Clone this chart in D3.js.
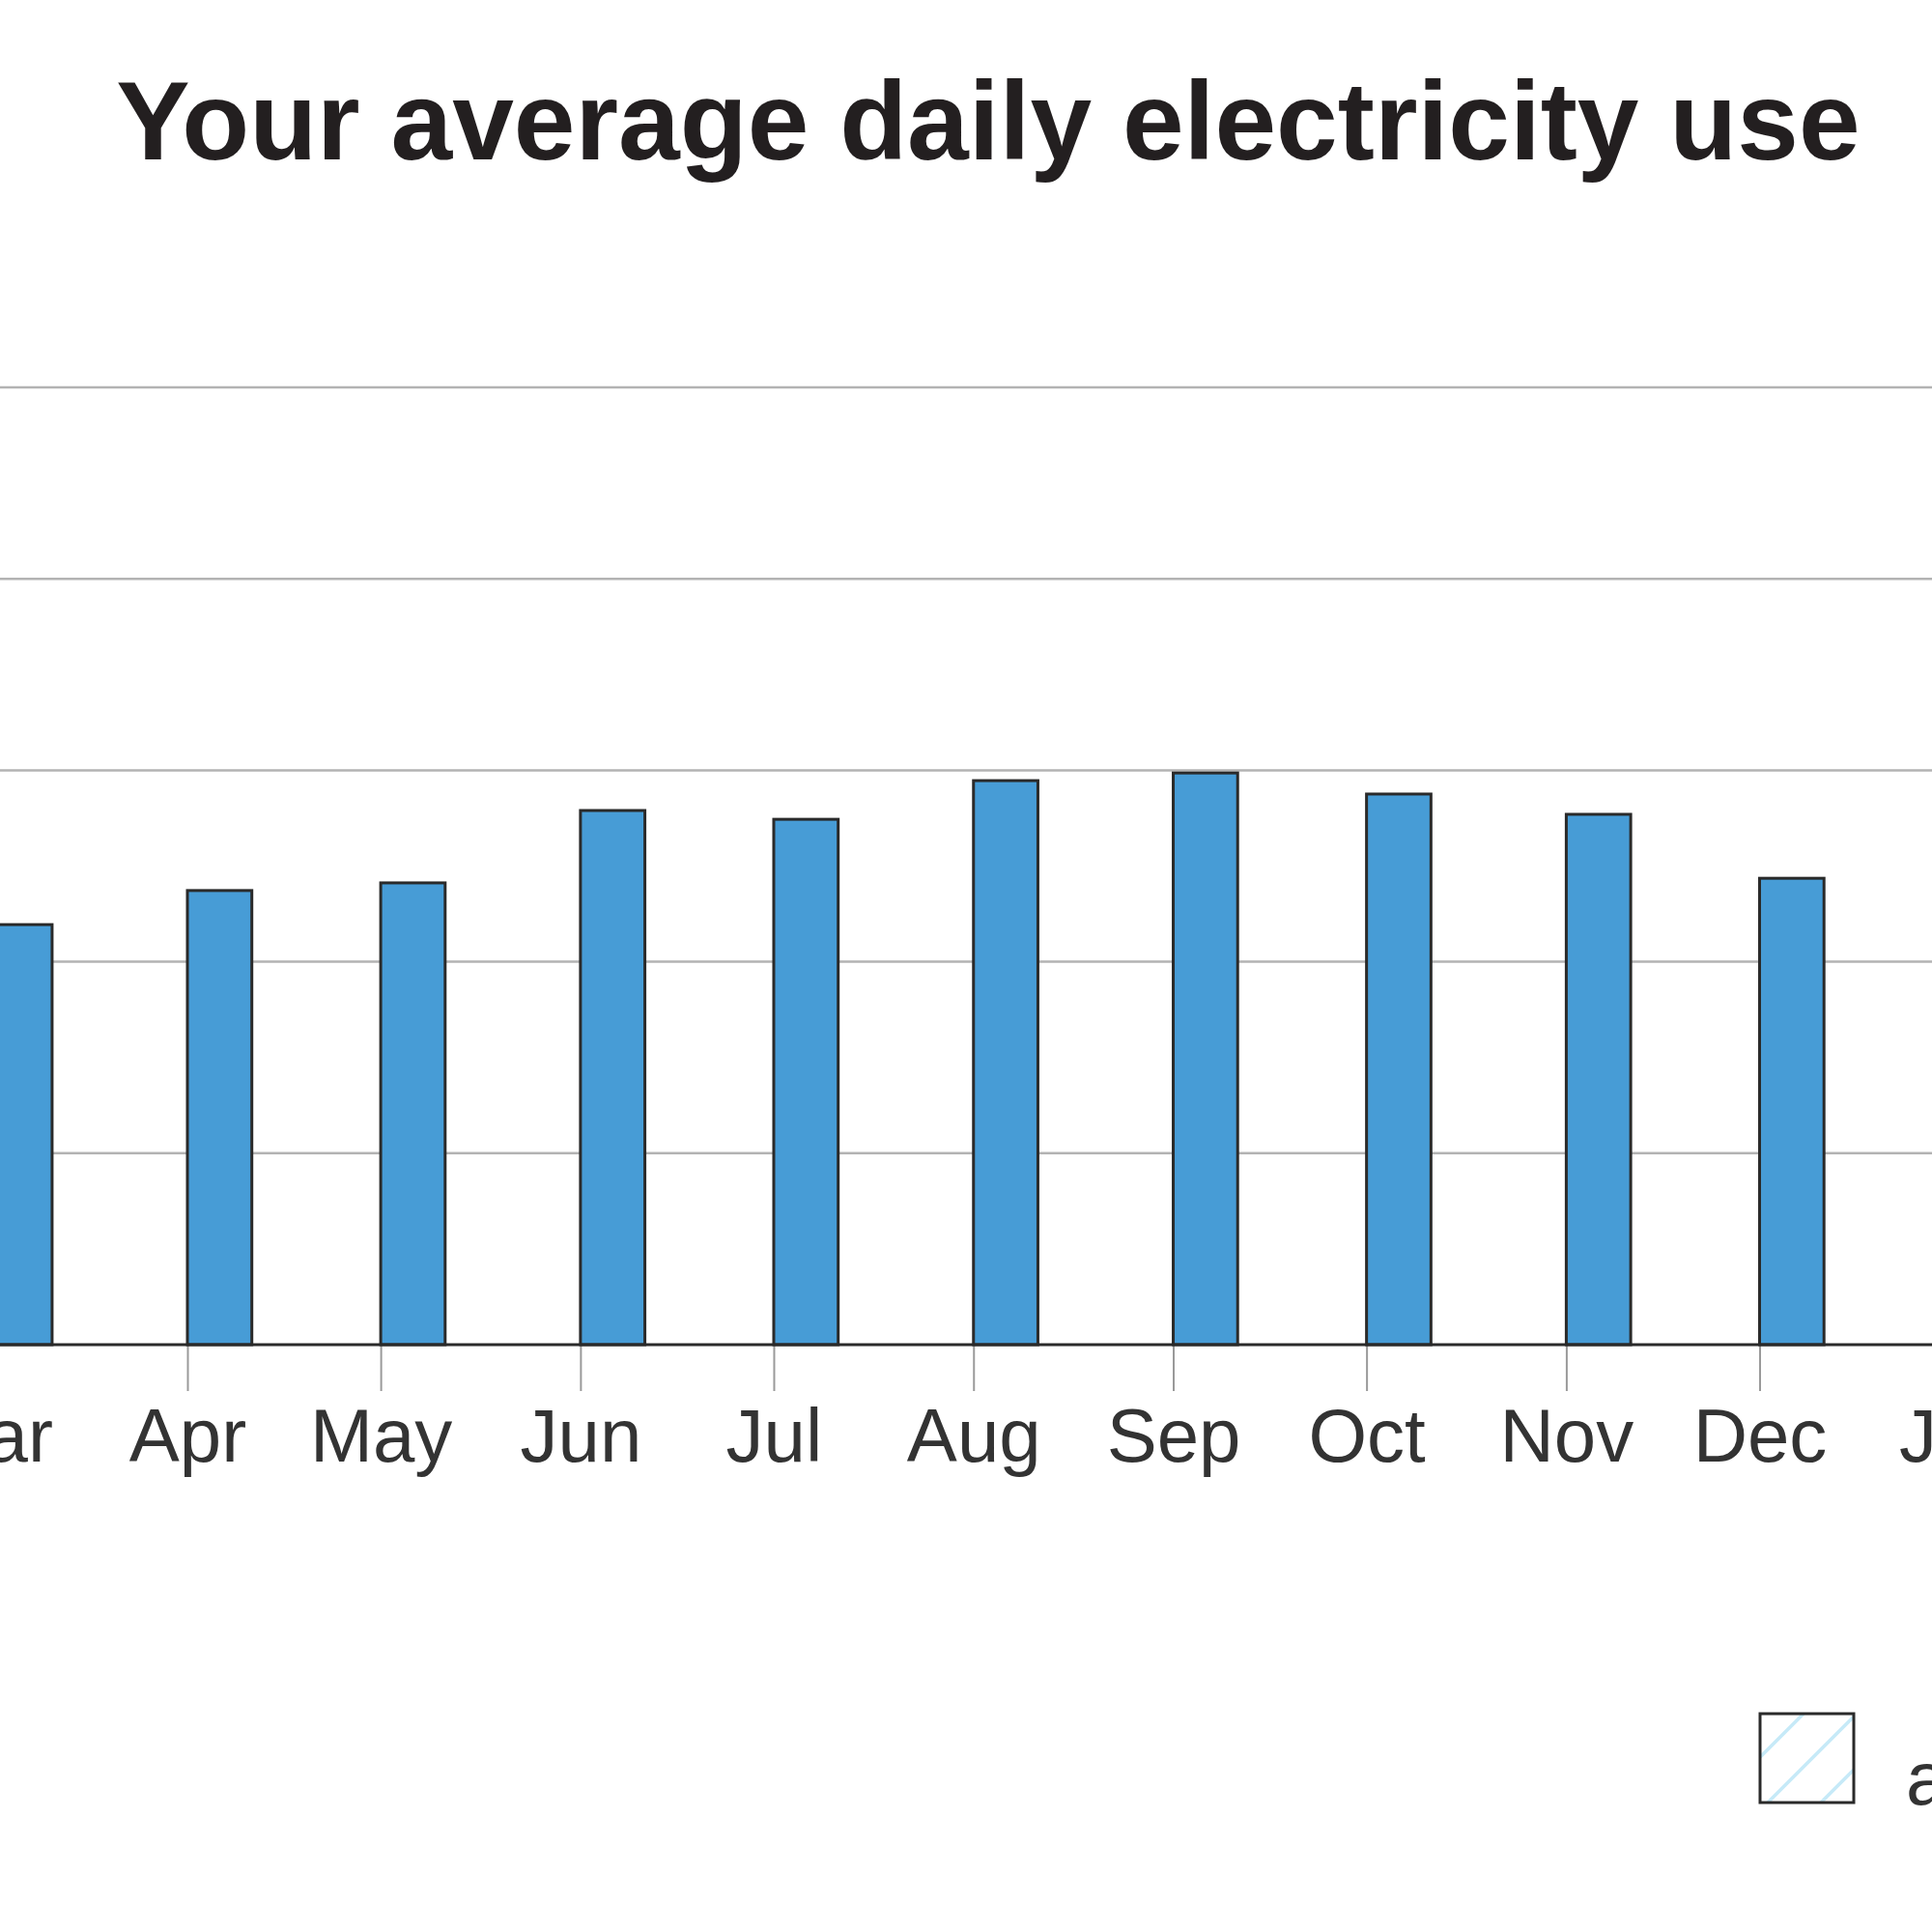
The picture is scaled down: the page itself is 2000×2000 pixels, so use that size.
<!DOCTYPE html>
<html>
<head>
<meta charset="utf-8">
<script src="https://cdn.jsdelivr.net/npm/d3@7"></script>
<style>
  html, body { margin: 0; padding: 0; background: #fff; }
  svg { display: block; }
</style>
</head>
<body>
<svg id="chart" width="2000" height="2000"></svg>
<script>
// ---- data ----
const months = ["2013-03-01","2013-04-01","2013-05-01","2013-06-01","2013-07-01","2013-08-01","2013-09-01","2013-10-01","2013-11-01","2013-12-01"];
const usage = [10.97, 11.86, 12.06, 13.95, 13.72, 14.73, 14.93, 14.38, 13.85, 12.18];
const tickMonths = ["2013-03-01","2013-04-01","2013-05-01","2013-06-01","2013-07-01","2013-08-01","2013-09-01","2013-10-01","2013-11-01","2013-12-01","2014-01-01"];
const tickLabels = ["Mar","Apr","May","Jun","Jul","Aug","Sep","Oct","Nov","Dec","Jan"];
const gridValues = [5, 10, 15, 20, 25];
const titleText = "Your average daily electricity use";
const legendLabel = "average home";

const parse = d3.utcParse("%Y-%m-%d");
const svg = d3.select("#chart");
const W = 2000;

const x = d3.scaleUtc()
  .domain([parse("2013-04-01"), parse("2013-12-01")])
  .range([194, 1821.5]);
const y = d3.scaleLinear().domain([0, 25]).range([1392, 401]);

// title
svg.append("text")
  .attr("x", 1023).attr("y", 165)
  .attr("text-anchor", "middle")
  .attr("font-family", "Liberation Sans, Arial, sans-serif")
  .attr("font-weight", "bold")
  .attr("font-size", 114.5)
  .attr("fill", "#231f20")
  .text(titleText);

// gridlines
svg.append("g").selectAll("line").data(gridValues).join("line")
  .attr("x1", 0).attr("x2", W)
  .attr("y1", d => y(d)).attr("y2", d => y(d))
  .attr("stroke", "#b3b3b3").attr("stroke-width", 2.5);

// x axis ticks + labels
const axis = d3.axisBottom(x)
  .tickValues(tickMonths.map(parse))
  .tickFormat((d, i) => tickLabels[i])
  .tickSize(48)
  .tickPadding(18);
const gx = svg.append("g").attr("transform", `translate(0,${y(0)})`).call(axis);
gx.select(".domain").remove();
gx.selectAll(".tick line").attr("stroke", "#9a9a9a").attr("stroke-width", 2);
gx.selectAll(".tick text")
  .attr("font-family", "Liberation Sans, Arial, sans-serif")
  .attr("font-size", 78)
  .attr("fill", "#333");

// bars
svg.append("g").selectAll("rect").data(months.map((m, i) => ({d: parse(m), v: usage[i]}))).join("rect")
  .attr("x", d => x(d.d))
  .attr("width", d => x(d3.utcDay.offset(d.d, 10)) - x(d.d))
  .attr("y", d => y(d.v))
  .attr("height", d => y(0) - y(d.v))
  .attr("fill", "#479cd6")
  .attr("stroke", "#2a2a2a")
  .attr("stroke-width", 3);

// baseline
svg.append("line")
  .attr("x1", 0).attr("x2", W)
  .attr("y1", y(0)).attr("y2", y(0))
  .attr("stroke", "#2a2a2a").attr("stroke-width", 3);

// legend
const boxW = 97, boxH = 92;
svg.append("defs").append("clipPath").attr("id", "legclip")
  .append("rect").attr("width", boxW).attr("height", boxH);
const lg = svg.append("g").attr("transform", "translate(1822,1774)");
lg.append("rect").attr("width", boxW).attr("height", boxH).attr("fill", "#fff");
lg.append("g").attr("clip-path", "url(#legclip)")
  .selectAll("line").data([45, 100, 155]).join("line")
  .attr("x1", 0).attr("y1", d => d)
  .attr("x2", d => d).attr("y2", 0)
  .attr("stroke", "#c6eaf8").attr("stroke-width", 3.5);
lg.append("rect").attr("width", boxW).attr("height", boxH)
  .attr("fill", "none")
  .attr("stroke", "#2a2a2a").attr("stroke-width", 3);
lg.append("text")
  .attr("x", 151).attr("y", 94)
  .attr("font-family", "Liberation Sans, Arial, sans-serif")
  .attr("font-size", 78)
  .attr("fill", "#333")
  .text(legendLabel);
</script>
</body>
</html>
